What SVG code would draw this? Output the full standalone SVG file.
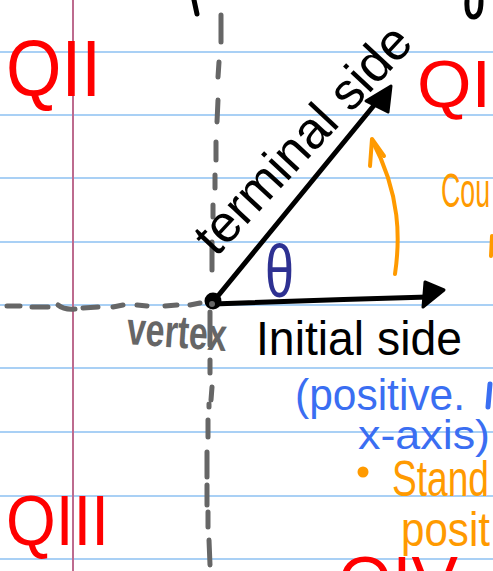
<svg xmlns="http://www.w3.org/2000/svg" width="493" height="571" viewBox="0 0 493 571">
<style>
.rule{stroke:#a9d0f5;stroke-width:2.2;fill:none}
.margin{stroke:#bd6b8e;stroke-width:2;fill:none}
.dash{stroke:#666;stroke-width:5;stroke-linecap:round;fill:none}
.ink{stroke:#000;stroke-width:5;stroke-linecap:round;stroke-linejoin:round;fill:none}
.or{stroke:#ff9a00;stroke-width:4;stroke-linecap:round;stroke-linejoin:round;fill:none}
.t{font-family:"Liberation Sans",Arial,sans-serif}
.red{fill:#ff0000}
.blk{fill:#000}
.gry{fill:#666}
.blu{fill:#3a6ef2}
.org{fill:#ff9a00}
.dblu{fill:#2e3192}
</style>
<rect x="0" y="0" width="493" height="571" fill="#fff"/>
<g id="paper">
<path class="rule" d="M0,52H493M0,115H493M0,178H493M0,242H493M0,305H493M0,368H493M0,432H493M0,496H493M0,559H493"/>
<path class="margin" d="M73,0V571"/>
</g>
<g id="axes">
<path class="dash" d="M221,15L221,42M219,62L218,77M218,100L217,122M216,142L216,160M215,175L215,188M213,205L213,217M212,242L212,270M210,312L210,345M210,360L210,373M212,387L211,400M209,404L209,407M208,420L208,437M207,452L207,477M207,485L207,505M208,512L208,527M209,540L210,565"/>
<path class="dash" d="M7,306L20,306M32,307L48,307M58,305Q64,310 75,309M83,308L98,307M113,307L123,305M137,305L147,306M165,306L177,305M190,305L200,303"/>
</g>
<g id="connectors">
<path class="ink" d="M213,302L380,98"/>
<polygon points="391,86 366,101 388,112" fill="#000" stroke="#000" stroke-width="3" stroke-linejoin="round"/>
<path class="ink" d="M213,304Q320,300 428,297"/>
<polygon points="444,290 425,282 423,307" fill="#000" stroke="#000" stroke-width="3" stroke-linejoin="round"/>
<path class="or" d="M395,274C400,240 401,195 372,140"/>
<path class="or" d="M370,166L372,139L384,156"/>
</g>
<g id="vertex">
<circle cx="213" cy="301" r="8.5" fill="#000"/>
<circle cx="212" cy="304" r="3" fill="#666"/>
<text class="t gry" x="126" y="344" font-size="46" font-weight="bold" textLength="100" lengthAdjust="spacingAndGlyphs" transform="rotate(4 126 344)">vertex</text>
</g>
<g id="labels">
<text class="t blk" transform="translate(216,258) rotate(-47)" font-size="52" textLength="292" lengthAdjust="spacingAndGlyphs">terminal side</text>
<text class="t blk" x="256" y="355" font-size="48" textLength="206" lengthAdjust="spacingAndGlyphs">Initial side</text>
<text class="t dblu" x="265" y="297" font-size="74" textLength="29" lengthAdjust="spacingAndGlyphs">θ</text>
</g>
<g id="quadrants">
<text class="t red" x="6" y="96" font-size="80" textLength="95" lengthAdjust="spacingAndGlyphs">QII</text>
<text class="t red" x="417" y="107" font-size="66" textLength="74" lengthAdjust="spacingAndGlyphs">QI</text>
<text class="t red" x="6" y="545" font-size="70" textLength="103" lengthAdjust="spacingAndGlyphs">QIII</text>
<text class="t red" x="338" y="606" font-size="70" textLength="120" lengthAdjust="spacingAndGlyphs">QIV</text>
</g>
<g id="notes">
<text class="t org" x="441" y="207" font-size="48" textLength="49" lengthAdjust="spacingAndGlyphs">Cou</text>
<path class="or" d="M492,236L491,256"/>
<text class="t blu" x="295" y="410" font-size="44" textLength="170" lengthAdjust="spacingAndGlyphs">(positive.</text>
<path d="M490,384L488,407" stroke="#3a6ef2" stroke-width="5" stroke-linecap="round" fill="none"/>
<text class="t blu" x="358" y="449" font-size="40" textLength="132" lengthAdjust="spacingAndGlyphs">x-axis)</text>
<circle cx="363" cy="472" r="5.5" fill="#ff9a00"/>
<text class="t org" x="392" y="496" font-size="50" textLength="97" lengthAdjust="spacingAndGlyphs">Stand</text>
<text class="t org" x="401" y="546" font-size="48" textLength="89" lengthAdjust="spacingAndGlyphs">posit</text>
</g>
<g id="fragments">
<path class="ink" d="M194,0L197,14"/>
<path class="ink" d="M467,1Q466,17 474,17Q481,16 481,1"/>
</g>
</svg>
